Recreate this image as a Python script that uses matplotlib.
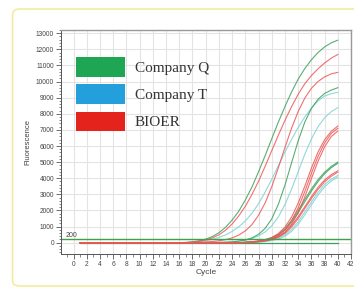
import numpy as np
import matplotlib
matplotlib.use("Agg")
from matplotlib import pyplot as plt
from matplotlib.patches import Patch, FancyBboxPatch
from matplotlib.ticker import MultipleLocator

# cycles 16..40, baseline (cycles 1..15) is flat at 0
CYCLES = list(range(1, 41))
FIRST_CYCLE = 16

green_curves = [
    [0, 20, 60, 120, 220, 380, 620, 950, 1400, 1950, 2650, 3450, 4400, 5400, 6450,
     7480, 8450, 9350, 10150, 10800, 11350, 11800, 12150, 12400, 12570],
    [0, 0, 0, 0, 0, 10, 20, 30, 55, 95, 170, 300, 520, 890, 1480,
     2380, 3570, 4950, 6320, 7480, 8330, 8900, 9260, 9470, 9620],
    [0, 0, 0, 0, 0, 0, 0, 0, 0, 10, 30, 60, 110, 190, 320,
     520, 870, 1380, 2000, 2680, 3330, 3910, 4370, 4730, 5000],
    [0, 0, 0, 0, 0, 0, 0, 0, 0, 0, 20, 50, 90, 160, 280,
     460, 780, 1260, 1870, 2540, 3200, 3790, 4280, 4650, 4930],
]

cyan_curves = [
    [0, 0, 30, 60, 120, 210, 330, 480, 700, 980, 1350, 1820, 2420, 3140, 3930,
     4780, 5620, 6410, 7150, 7800, 8350, 8800, 9100, 9250, 9330],
    [0, 0, 0, 0, 0, 0, 20, 35, 60, 95, 160, 260, 420, 670, 1050,
     1600, 2370, 3320, 4400, 5480, 6430, 7200, 7750, 8130, 8380],
    [0, 0, 0, 0, 0, 0, 0, 0, 0, 0, 0, 20, 50, 95, 160,
     280, 480, 820, 1300, 1900, 2530, 3120, 3620, 3940, 4170],
    [0, 0, 0, 0, 0, 0, 0, 0, 0, 0, 0, 0, 30, 70, 130,
     230, 400, 700, 1140, 1720, 2350, 2950, 3460, 3830, 4060],
]

red_curves = [
    [0, 10, 40, 90, 170, 300, 490, 770, 1160, 1660, 2260, 2990, 3810, 4740, 5710,
     6670, 7590, 8440, 9210, 9860, 10370, 10790, 11150, 11450, 11680],
    [0, 0, 0, 30, 50, 75, 120, 190, 300, 470, 730, 1120, 1700, 2470, 3470,
     4650, 5910, 7100, 8140, 8970, 9580, 10000, 10290, 10480, 10570],
    [0, 0, 0, 0, 0, 0, 0, 0, 0, 0, 30, 60, 100, 185, 320,
     570, 970, 1590, 2450, 3500, 4620, 5620, 6390, 6910, 7240],
    [0, 0, 0, 0, 0, 0, 0, 0, 0, 0, 20, 45, 80, 150, 260,
     470, 810, 1360, 2160, 3170, 4300, 5350, 6190, 6780, 7100],
    [0, 0, 0, 0, 0, 0, 0, 0, 0, 0, 15, 35, 65, 120, 210,
     380, 660, 1140, 1860, 2830, 3970, 5050, 5950, 6580, 6930],
    [0, 0, 0, 0, 0, 0, 0, 0, 0, 0, 15, 40, 75, 135, 230,
     380, 640, 1060, 1610, 2230, 2860, 3430, 3890, 4220, 4460],
    [0, 0, 0, 0, 0, 0, 0, 0, 0, 0, 10, 30, 65, 115, 200,
     340, 580, 970, 1500, 2120, 2740, 3310, 3780, 4120, 4380],
]

NTC_LEVEL = -40
THRESHOLD = 200
legend_labels = ["Company Q", "Company T", "BIOER"]
legend_colors = ["#1fa654", "#23a0dc", "#e5231d"]

plt.rcParams["font.family"] = ["Liberation Sans", "DejaVu Sans"]

fig = plt.figure(figsize=(3.54, 2.94), dpi=100)
fig.patches.append(FancyBboxPatch((12.5 / 354, 8 / 294), 360 / 354, 277 / 294,
                                  boxstyle="round,pad=0,rounding_size=0.02",
                                  transform=fig.transFigure, fill=False,
                                  ec="#f3eca0", lw=1.2))
ax = fig.add_axes([61 / 354, 1 - 254 / 294, 290 / 354, 224 / 294])


def full(vals):
    return np.concatenate([np.zeros(FIRST_CYCLE - 1), vals])


for vals in cyan_curves:
    ax.plot(CYCLES, full(vals), color="#86d3d6", lw=0.8, alpha=0.9)
for vals in green_curves:
    ax.plot(CYCLES, full(vals), color="#3f9f5a", lw=0.8, alpha=0.85)
# negative controls, flat over the whole run
ax.plot([CYCLES[0], CYCLES[-1]], [NTC_LEVEL, NTC_LEVEL], color="#3f9f5a", lw=0.9)
for vals in red_curves:
    ax.plot(CYCLES, full(vals), color="#ef5656", lw=0.8, alpha=0.85)

ax.axhline(THRESHOLD, color="#3f9f4a", lw=1.0)
ax.text(-1.2, 330, str(THRESHOLD), fontsize=5, color="#444444")

ax.set_xlim(-1.9, 42)
ax.set_ylim(-700, 13200)
ax.xaxis.set_minor_locator(MultipleLocator(1))
ax.yaxis.set_minor_locator(MultipleLocator(200))
ax.set_xticks(range(0, 43, 2))
ax.set_yticks(range(0, 13001, 1000))
ax.grid(True, color="#e4e4e4", lw=0.8)
ax.set_axisbelow(True)

ax.tick_params(which="major", length=3.5, width=0.6, labelsize=4.8,
               labelcolor="#444444", color="#555555", pad=1.5)
ax.tick_params(which="minor", length=1.8, width=0.5, color="#555555")
for side in ["left", "bottom"]:
    ax.spines[side].set_color("#555555")
    ax.spines[side].set_linewidth(0.7)
for side in ["top", "right"]:
    ax.spines[side].set_color("#9a9a9a")
    ax.spines[side].set_linewidth(1.0)

ax.set_xlabel("Cycle", fontsize=6, color="#444444", labelpad=1)
ax.set_ylabel("Fluorescence", fontsize=5.5, color="#444444", labelpad=3)

handles = [Patch(facecolor=c, edgecolor="none") for c in legend_colors]
ax.legend(handles, legend_labels, loc="upper left",
          bbox_to_anchor=(15 / 290, 1 - 27 / 224), frameon=False,
          borderpad=0, borderaxespad=0, handlelength=3.2, handleheight=1.6,
          handletextpad=0.65, labelspacing=0.5,
          prop={"family": "Liberation Serif", "size": 11},
          labelcolor="#333333")

fig.savefig("out.png", dpi=100)
